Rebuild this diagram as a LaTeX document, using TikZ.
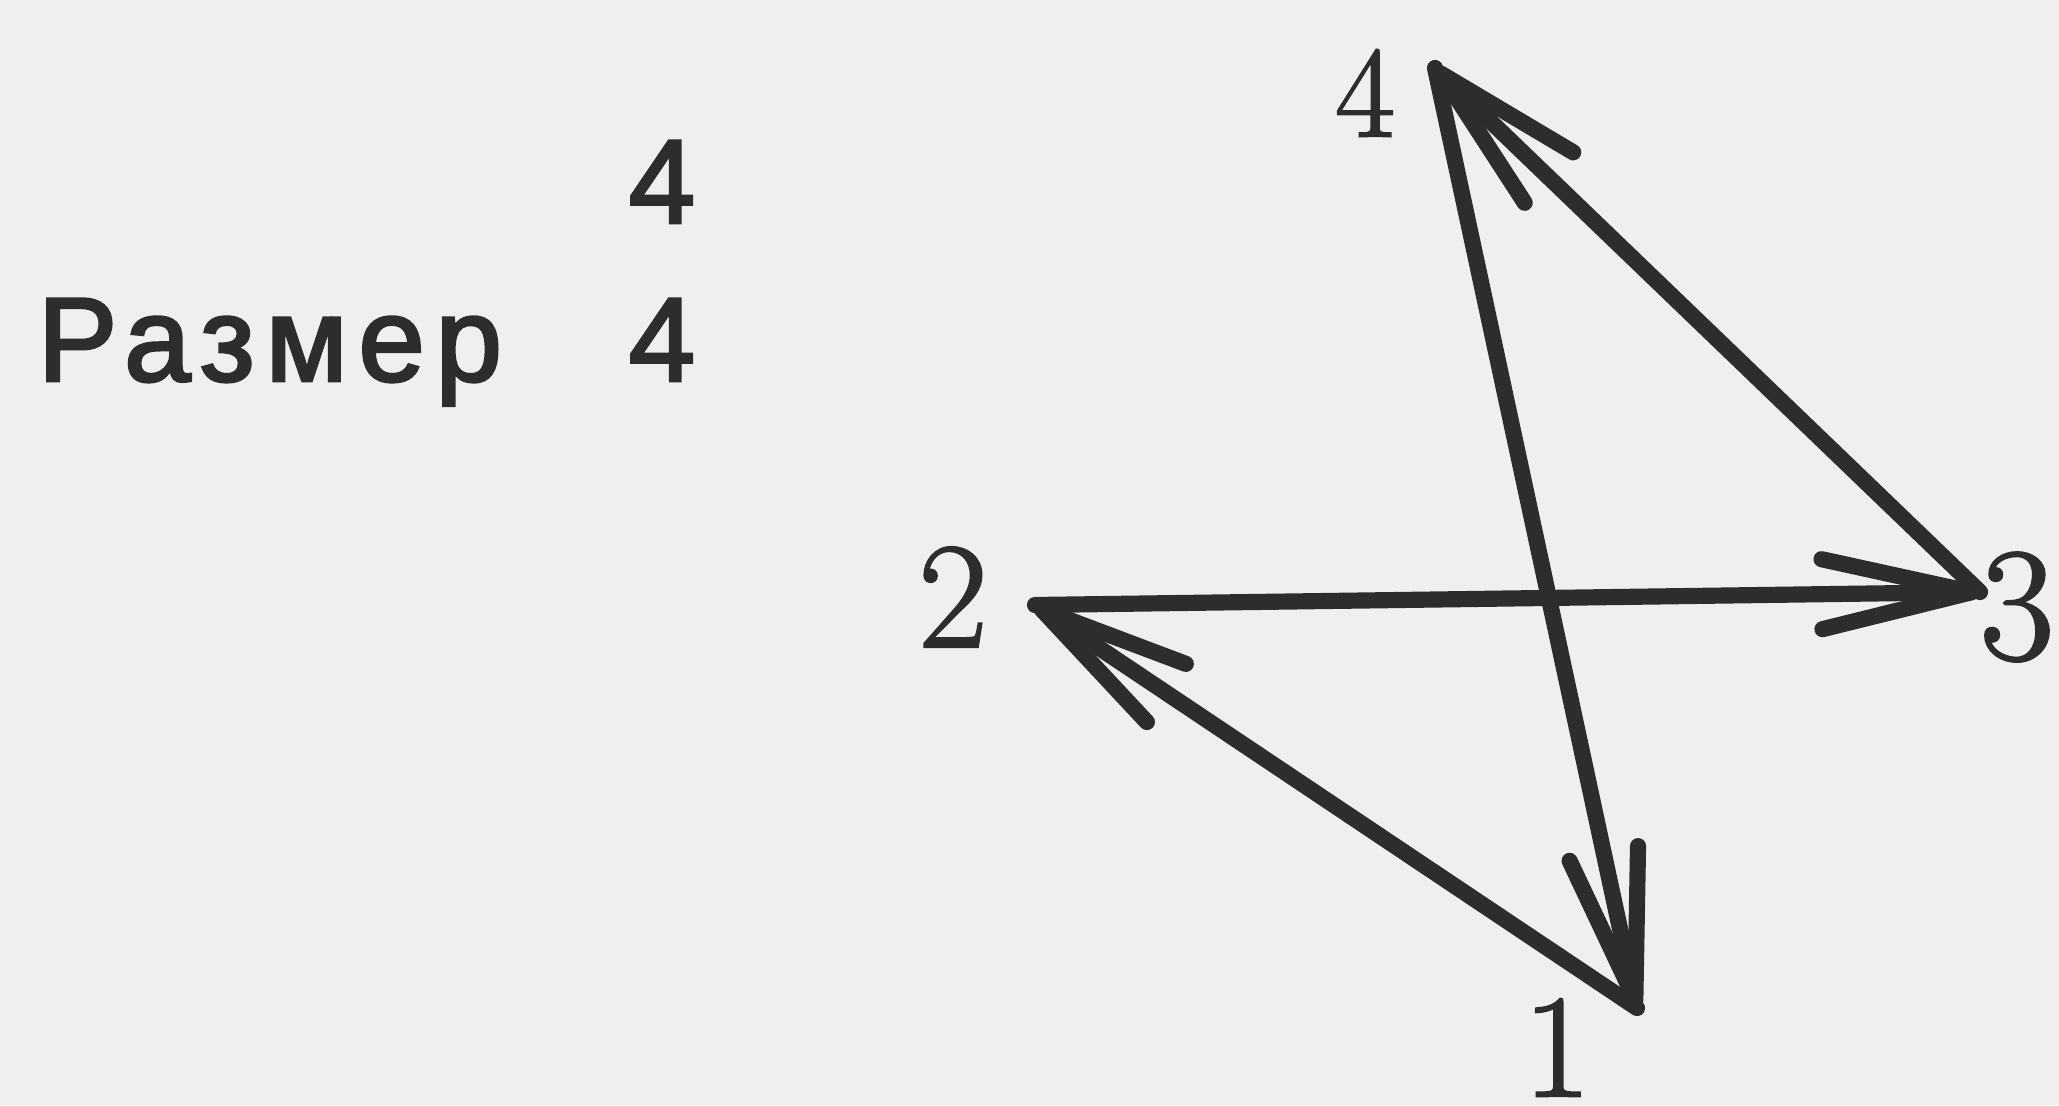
\documentclass[tikz,border=0pt]{standalone}
\usepackage{fontspec}
\newfontfamily\labelsans[LetterSpace=9,FakeBold=2.4]{Liberation Sans}
\newfontfamily\digitfont[FakeBold=1.5]{Latin Modern Roman}
\usetikzlibrary{arrows.meta}
\definecolor{paper}{RGB}{239,239,239}
\definecolor{ink}{RGB}{45,45,45}
\tikzset{
  edge/.style={draw=ink, line width=4.6pt, line cap=round, line join=round,
    -{Straight Barb[length=1.5cm, width=0.7cm, line cap=round, round]}},
  vlabel/.style={text=ink, inner sep=0pt},
  stext/.style={text=ink, inner sep=0pt, anchor=base west, font=\labelsans\fontsize{34}{38}\selectfont}
}
\begin{document}
\begin{tikzpicture}
\fill[paper] (0,0) rectangle (20.59,-11.05);
\useasboundingbox (0,0) rectangle (20.59,-11.05);
% vertices
\coordinate (v4) at (14.35,-0.68);
\coordinate (v2) at (10.35,-6.05);
\coordinate (v1) at (16.37,-10.08);
\coordinate (v3) at (19.80,-5.92);
% vertex labels
\node[vlabel, font=\digitfont\fontsize{37}{40}\selectfont] (l4) at (13.65,-0.93) {4};
\node[vlabel, font=\digitfont\fontsize{43}{46}\selectfont] (l2) at (9.53,-5.97) {2};
\node[vlabel, font=\digitfont\fontsize{46}{50}\selectfont] (l3) at (20.17,-6.07) {3};
\node[vlabel, font=\digitfont\fontsize{42}{46}\selectfont, anchor=north] (l1) at (15.57,-9.98) {1};
% edges
\draw[edge] (v2) -- (v3);
\draw[edge] (v1) -- (v2);
\draw[edge] (v3) -- (v4);
\draw[edge] (v4) -- (v1);
% left text
\node[stext] (t1) at (6.28,-2.23) {4};
\node[stext] (t2) at (0.37,-3.81) {Размер};
\node[stext] (t3) at (6.28,-3.81) {4};
\end{tikzpicture}
\end{document}
